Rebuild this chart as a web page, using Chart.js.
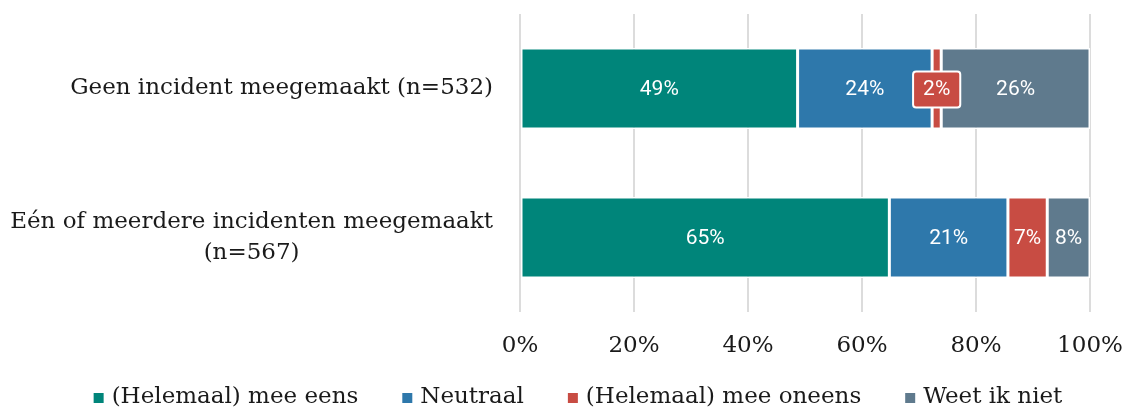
<!DOCTYPE html>
<html>
<head>
<meta charset="utf-8">
<script src="https://cdn.jsdelivr.net/npm/chart.js@4"></script>
<style>
  html, body { margin: 0; padding: 0; background: #fff; }
  #wrap { width: 1126px; height: 407px; position: relative; overflow: hidden; }
</style>
</head>
<body>
<div id="wrap"><canvas id="c" width="1126" height="407"></canvas></div>
<script>
// ---- data ----
const categories = [
  ["Geen incident meegemaakt (n=532)"],
  ["Eén of meerdere incidenten meegemaakt", "(n=567)"]
];
const seriesNames = ["(Helemaal) mee eens", "Neutraal", "(Helemaal) mee oneens", "Weet ik niet"];
const meeEens   = [48.7, 64.8];
const neutraal  = [23.6, 20.8];
const meeOneens = [1.6, 6.9];
const weetNiet  = [26.1, 7.5];
const xTicks = [0, 20, 40, 60, 80, 100];
const colors = ["#00857A", "#2E78AB", "#C84C43", "#5F7A8D"];

const SERIF = "'DejaVu Serif', 'Liberation Serif', serif";
const SANS = "Roboto, 'Noto Sans', sans-serif";
const serifSize = 23;

const customPlugin = {
  id: 'custom',
  afterDatasetsDraw(chart) {
    const ctx = chart.ctx;
    ctx.save();
    ctx.font = "21px " + SANS;
    ctx.textAlign = 'center';
    ctx.textBaseline = 'middle';
    chart.data.datasets.forEach((ds, di) => {
      const meta = chart.getDatasetMeta(di);
      meta.data.forEach((bar, i) => {
        const v = ds.data[i];
        const txt = Math.round(v) + '%';
        const p = bar.getProps(['x', 'y', 'base'], true);
        const cx = (p.x + p.base) / 2;
        const cy = p.y + 1;
        const w = ctx.measureText(txt).width;
        if (Math.abs(p.x - p.base) < w + 6) {
          const bw = w + 20, bh = 36;
          ctx.beginPath();
          ctx.roundRect(cx - bw / 2, cy - bh / 2, bw, bh, 3);
          ctx.fillStyle = ds.backgroundColor;
          ctx.fill();
          ctx.lineWidth = 2;
          ctx.strokeStyle = '#ffffff';
          ctx.stroke();
        }
        ctx.fillStyle = '#ffffff';
        ctx.fillText(txt, cx, cy);
      });
    });
    ctx.restore();
  },
  afterDraw(chart) {
    const ctx = chart.ctx;
    const ys = chart.scales.y;
    ctx.save();
    ctx.font = serifSize + "px " + SERIF;
    ctx.fillStyle = '#1a1a1a';
    ctx.textBaseline = 'middle';
    ctx.textAlign = 'center';
    const right = chart.chartArea.left - 27;
    const lh = 31;
    categories.forEach((lines, i) => {
      const cy = ys.getPixelForValue(i);
      const maxW = Math.max(...lines.map(l => ctx.measureText(l).width));
      const cx = right - maxW / 2;
      const y0 = cy - (lines.length - 1) * lh / 2;
      lines.forEach((l, k) => ctx.fillText(l, cx, y0 + k * lh));
    });
    // legend
    const box = 10, gapText = 8, gapItem = 44;
    const widths = seriesNames.map(n => ctx.measureText(n).width);
    const total = widths.reduce((a, b) => a + b, 0) + seriesNames.length * (box + gapText) + (seriesNames.length - 1) * gapItem;
    let x = 578 - total / 2;
    const ly = 397;
    ctx.textAlign = 'left';
    seriesNames.forEach((n, i) => {
      ctx.fillStyle = colors[i];
      ctx.fillRect(x, ly - box / 2 + 1, box, box);
      x += box + gapText;
      ctx.fillStyle = '#1a1a1a';
      ctx.fillText(n, x, ly);
      x += widths[i] + gapItem;
    });
    ctx.restore();
  }
};

const values = [meeEens, neutraal, meeOneens, weetNiet];
new Chart(document.getElementById('c'), {
  type: 'bar',
  data: {
    labels: categories,
    datasets: seriesNames.map((n, i) => ({
      label: n,
      data: values[i],
      backgroundColor: colors[i],
      borderColor: '#ffffff',
      borderWidth: 1.5,
      borderSkipped: false,
      barPercentage: 0.544,
      categoryPercentage: 1.0
    }))
  },
  options: {
    indexAxis: 'y',
    responsive: false,
    animation: false,
    devicePixelRatio: 1,
    layout: { padding: { top: 14, right: 36, left: 0, bottom: 0 } },
    plugins: { legend: { display: false }, tooltip: { enabled: false } },
    scales: {
      x: {
        stacked: true,
        min: 0, max: 100,
        afterBuildTicks: s => { s.ticks = xTicks.map(v => ({ value: v })); },
        afterFit: s => { s.height = 95; s.paddingLeft = 0; s.paddingRight = 0; },
        grid: { color: '#dcdcdc', lineWidth: 2, drawTicks: false },
        border: { display: false },
        ticks: {
          padding: 20,
          color: '#1a1a1a',
          font: { family: SERIF, size: serifSize },
          callback: v => v + '%',
          maxRotation: 0
        }
      },
      y: {
        stacked: true,
        afterFit: s => { s.width = 520; },
        grid: { display: false },
        border: { display: false },
        ticks: { display: false }
      }
    }
  },
  plugins: [customPlugin]
});
</script>
</body>
</html>
